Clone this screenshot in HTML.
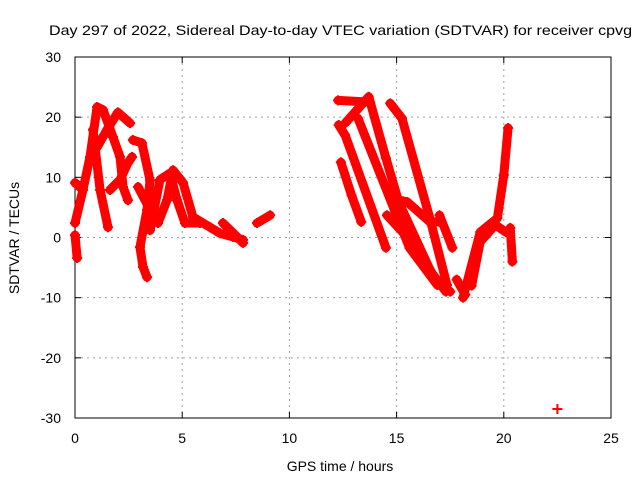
<!DOCTYPE html>
<html><head><meta charset="utf-8"><style>
html,body{margin:0;padding:0;background:#fff;}
svg{display:block;font-family:"Liberation Sans",sans-serif;}
</style></head><body>
<svg id="chart" width="640" height="480">
<text x="49" y="35" font-size="14" textLength="583" lengthAdjust="spacingAndGlyphs">Day 297 of 2022, Sidereal Day-to-day VTEC variation (SDTVAR) for receiver cpvg</text>
<g id="grid"></g>
<g id="axes"></g>
<g id="series"></g>
<text x="340" y="471" font-size="14" text-anchor="middle">GPS time / hours</text>
<text transform="translate(19,238) rotate(-90)" font-size="14" text-anchor="middle">SDTVAR / TECUs</text>
</svg>
<script>
const xTicks=[0,5,10,15,20,25];
const yTicks=[-30,-20,-10,0,10,20,30];
const track1=[[0.0,2.4],[0.37,7.9],[0.70,13.4],[1.03,21.7],[1.31,21.2],[1.77,16.7],[2.10,13.4],[2.24,8.4],[2.47,6.2]];
const track2=[[0.84,17.9],[1.17,7.9],[1.54,1.7]];
const track3=[[1.03,15.0],[1.49,17.9],[2.0,20.8],[2.57,19.0]];
const track4=[[1.63,7.9],[2.10,9.6],[2.47,12.4],[2.66,13.4]];
const track5=[[0.0,9.1],[0.37,7.9]];
const track6=[[0.0,0.4],[0.1,-3.4]];
const track7=[[2.7,16.2],[3.12,15.7],[3.5,9.5],[3.36,4.6],[3.03,-1.6],[3.17,-4.9],[3.36,-6.6]];
const track8=[[2.94,8.4],[3.5,4.6],[3.87,2.4],[4.29,6.2],[4.57,11.2],[5.04,9.1],[5.5,3.4],[6.3,1.7],[6.76,0.7],[7.37,0.1],[7.84,-0.4]];
const track9=[[3.5,1.2],[3.96,9.6],[4.43,10.7],[4.76,6.2],[5.13,2.4],[5.83,2.4]];
const track10=[[6.9,2.4],[7.56,0.1],[7.84,-0.9]];
const track11=[[8.49,2.4],[9.1,3.7]];
const track12=[[12.4,12.5],[12.9,7.0],[13.35,2.6]];
const track13=[[12.27,22.8],[13.76,22.5]];
const track14=[[12.3,18.7],[12.6,17.0],[14.5,-1.7]];
const track15=[[12.6,19.0],[13.7,23.4],[14.5,13.2],[15.1,5.9],[16.6,-5.7],[17.3,-9.0]];
const track16=[[13.2,19.8],[15.6,-1.7],[16.9,-7.9]];
const track17=[[14.7,22.3],[15.25,19.8],[16.55,3.2],[17.35,-7.9]];
const track18=[[14.7,6.6],[15.5,5.9],[16.55,2.6],[17.0,2.6]];
const track19=[[17.0,3.7],[17.6,-1.7]];
const track20=[[14.55,3.7],[15.95,-1.7],[16.9,-7.4],[17.5,-9.0]];
const track21=[[18.1,-10.0],[18.9,0.9],[19.7,3.2],[20.0,10.4],[20.2,18.2]];
const track22=[[18.5,-8.0],[18.9,-0.7],[19.6,2.1],[20.1,0.9]];
const track23=[[20.3,1.6],[20.4,-4.0]];
const track24=[[17.8,-7.0],[18.2,-9.5]];
const outlier=[[22.5,-28.5]];
const tracks=[track1,track2,track3,track4,track5,track6,track7,track8,track9,track10,track11,track12,track13,track14,track15,track16,track17,track18,track19,track20,track21,track22,track23,track24,outlier];

const NS="http://www.w3.org/2000/svg";
const X0=75,X1=611,Y0=418,Y1=57;
function xs(t){return X0+(t-0)/(25-0)*(X1-X0);}
function ys(v){return Y0-(v+30)/60*(Y0-Y1);}
function mk(tag,attrs,parent){const e=document.createElementNS(NS,tag);for(const k in attrs)e.setAttribute(k,attrs[k]);parent.appendChild(e);return e;}
const grid=document.getElementById('grid'),axes=document.getElementById('axes'),ser=document.getElementById('series');
xTicks.forEach(t=>{
 const x=xs(t);
 if(t>0&&t<25){const l=mk('line',{x1:x,x2:x,y1:Y1,y2:Y0,stroke:'#a0a0a0','stroke-dasharray':'2,4'},grid);
 
 }
 mk('line',{x1:x,x2:x,y1:Y0,y2:Y0-6,stroke:'#000'},axes);
 mk('line',{x1:x,x2:x,y1:Y1,y2:Y1+6,stroke:'#000'},axes);
 const tx=mk('text',{x:x,y:443,'font-size':14,'text-anchor':'middle'},axes);tx.textContent=t;
 
 
});
yTicks.forEach(v=>{
 const y=ys(v);
 if(v>-30&&v<30){const l=mk('line',{x1:X0,x2:X1,y1:y,y2:y,stroke:'#a0a0a0','stroke-dasharray':'2,4'},grid);
 
 }
 mk('line',{x1:X0,x2:X0+6,y1:y,y2:y,stroke:'#000'},axes);
 mk('line',{x1:X1,x2:X1-6,y1:y,y2:y,stroke:'#000'},axes);
 const tx=mk('text',{x:61,y:y+5,'font-size':14,'text-anchor':'end'},axes);tx.textContent=v;
 
 
});
const box=mk('rect',{x:X0,y:Y1,width:X1-X0,height:Y0-Y1,fill:'none',stroke:'#000'},axes);


tracks.forEach(tr=>{
 if(tr.length>1){
  const p=mk('polyline',{points:tr.map(d=>xs(d[0])+','+ys(d[1])).join(' '),fill:'none',stroke:'#ff0000','stroke-width':9,'stroke-linejoin':'round','stroke-linecap':'round'},ser);
  
  
 }
 tr.forEach(d=>{
  const x=xs(d[0]),y=ys(d[1]);
  const m=mk('path',{d:`M${x-5},${y}H${x+5}M${x},${y-5}V${y+5}`,stroke:'#ff0000','stroke-width':2},ser);
  
  
 });
});
</script>
</body></html>
